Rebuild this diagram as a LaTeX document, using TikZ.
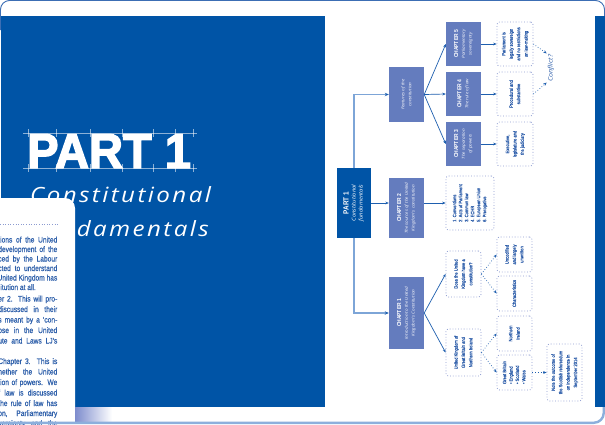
\documentclass[tikz,border=0pt]{standalone}
\usepackage{fontspec}
\usepackage{graphicx}
\usetikzlibrary{arrows.meta}
\newfontfamily\cardfont{Liberation Sans}[FakeStretch=0.83,FakeBold=0.4]
\newfontfamily\boxfont{Liberation Sans}[FakeStretch=0.85]
\newfontfamily\dfont{Liberation Sans}[FakeStretch=0.85,FakeBold=0.3]
\newfontfamily\titlefont{Liberation Sans}[FakeBold=3]
\newfontfamily\handfont{Open Sans}[LetterSpace=10]
\newfontfamily\handwide{Open Sans}[FakeStretch=1.15]
\definecolor{panelblue}{RGB}{0,84,166}
\definecolor{chblue}{RGB}{100,124,190}
\definecolor{trunkblue}{RGB}{125,165,215}
\definecolor{arrowblue}{RGB}{30,95,175}
\definecolor{dotblue}{RGB}{140,155,208}
\definecolor{dtext}{RGB}{40,90,168}
\definecolor{cardtext}{RGB}{45,95,170}
\definecolor{framecol}{RGB}{60,110,180}
\definecolor{bandblue}{RGB}{140,175,220}
\definecolor{gradblue}{RGB}{125,140,205}
\newcommand\rotbox[2]{\rotatebox{90}{\begin{tabular}{@{}#1@{}}#2\end{tabular}}}
\newcommand\chf{\boxfont\bfseries\fontsize{5.8}{6.8}\selectfont}
\newcommand\sbf{\handwide\itshape\fontsize{4}{6.8}\selectfont}
\newcommand\jl[1]{\makebox[59pt][s]{#1}}
\begin{document}
\begin{tikzpicture}[x=1pt,y=-1pt,
  cardline/.style={anchor=base east, inner sep=0, text=cardtext, font=\cardfont\fontsize{8}{9}\selectfont},
  pbox/.style={fill=panelblue, minimum width=34, minimum height=70, inner sep=0, text=white, font=\fontsize{4}{7}\selectfont},
  chbox/.style={fill=chblue, minimum width=35, inner sep=0, text=white, font=\fontsize{4}{6.8}\selectfont},
  dbox/.style={draw=dotblue, dotted, line width=0.8, rounded corners=2.5, fill=white, minimum width=35, inner sep=0, text=dtext, font=\dfont\fontsize{4.8}{7.4}\selectfont},
  arr/.style={draw=arrowblue, line width=0.7, -{Stealth[length=3.4pt,width=2.8pt]}},
  darr/.style={arr, dotted},
  trunk/.style={draw=trunkblue, line width=1.6, -{Stealth[length=4pt,width=3.4pt,color=arrowblue]}},
  guideln/.style={white, opacity=0.55, line width=0.4}
]
\useasboundingbox (0,0) rectangle (605,424);
\fill[white] (0,0) rectangle (605,424);
\fill[panelblue] (1,16) rectangle (325,407);

% title
\node[anchor=base west, inner sep=0, text=white] (title) at (27,168) {\scalebox{0.96}[1]{\titlefont\bfseries\fontsize{49}{49}\selectfont PART 1}};
\draw[guideln] (23,133) -- (197,133) (23,168) -- (197,168);
\foreach \tx in {28,56,90,122,153,175,193} {\draw[guideln] (\tx,129) -- (\tx,137) (\tx,164) -- (\tx,172);}
\node[anchor=base west, inner sep=0, text=white] (sub1) at (30,202) {\scalebox{1.15}[1]{\handfont\itshape\fontsize{21}{21}\selectfont Constitutional}};
\node[anchor=base west, inner sep=0, text=white] (sub2) at (30,236) {\scalebox{1.15}[1]{\handfont\itshape\fontsize{21}{21}\selectfont Fundamentals}};

% card
\fill[white, rounded corners=10] (-12,198) rectangle (75,440);
\draw[dotblue, dotted, line width=0.6] (0,224) -- (58,224);
\node[cardline] (p1a) at (57.5,242.5) {\jl{tions of the United}};
\node[cardline] (p1b) at (57.5,252) {\jl{development of the}};
\node[cardline] (p1c) at (57.5,261.5) {\jl{ced by the Labour}};
\node[cardline] (p1d) at (57.5,271) {\jl{cted to understand}};
\node[cardline] (p1e) at (57.5,280.5) {United Kingdom has};
\node[cardline] (p1f) at (36,290) {itution at all.};
\node[cardline] (p2a) at (57.5,301.5) {\jl{er 2. This will pro-}};
\node[cardline] (p2b) at (57.5,312) {\jl{discussed in their}};
\node[cardline] (p2c) at (57.5,322.5) {\jl{s meant by a ‘con-}};
\node[cardline] (p2d) at (57.5,333) {\jl{ose in the United}};
\node[cardline] (p2e) at (57.5,343.5) {\jl{ute and Laws LJ’s}};
\node[cardline] (p3a) at (57.5,364) {\jl{Chapter 3. This is}};
\node[cardline] (p3b) at (57.5,374.5) {\jl{hether the United}};
\node[cardline] (p3c) at (57.5,385) {\jl{tion of powers. We}};
\node[cardline] (p3d) at (57.5,395.5) {\jl{f law is discussed}};
\node[cardline] (p3e) at (57.5,406) {\jl{the rule of law has}};
\node[cardline] (p3f) at (57.5,416) {\jl{on, Parliamentary}};
\node[cardline] (p3g) at (57.5,426) {\jl{vereignty and the}};

% bottom band and frame
\shade[left color=gradblue, right color=white] (75,407) rectangle (112,421);
\draw[framecol, line width=0.9, rounded corners=9] (0.5,30) -- (0.5,0.5) -- (604.5,0.5) -- (604.5,30);
\draw[bandblue, line width=2.4, rounded corners=10] (-5,422.8) -- (603.8,422.8) -- (603.8,395);
\fill[panelblue] (595,16) rectangle (605,407);

% flowchart nodes
\node[pbox] (part1) at (354,203) {\rotbox{c}{{\boxfont\bfseries\fontsize{7.5}{8}\selectfont PART 1}\\ {\handwide\itshape\fontsize{5.2}{7}\selectfont Constitutional}\\ {\handwide\itshape\fontsize{5.2}{7}\selectfont fundamentals}}};
\node[chbox, minimum height=55] (feat) at (406.5,94.5) {\rotbox{c}{\sbf Features of the\\ \sbf constitution}};
\node[chbox, minimum height=60] (ch2) at (406.5,208) {\rotbox{c}{\chf CHAPTER 2\\ \sbf The sources of the United\\ \sbf Kingdom's constitution}};
\node[chbox, minimum height=72] (ch1) at (406.5,313) {\rotbox{c}{\chf CHAPTER 1\\ \sbf Introduction to the United\\ \sbf Kingdom's Constitution}};
\node[chbox, minimum height=44] (ch5) at (463.5,44) {\rotbox{c}{\chf CHAPTER 5\\ \sbf Parliamentary\\ \sbf sovereignty}};
\node[chbox, minimum height=44] (ch4) at (463.5,94) {\rotbox{c}{\chf CHAPTER 4\\ \sbf The rule of law}};
\node[chbox, minimum height=44] (ch3) at (463.5,144) {\rotbox{c}{\chf CHAPTER 3\\ \sbf The separation\\ \sbf of powers}};

\node[dbox, minimum width=36, minimum height=44] (d5) at (515,44) {\rotbox{c}{Parliament is\\ legally sovereign\\ and no restrictions\\ on law-making}};
\node[dbox, minimum width=36, minimum height=44] (d4) at (515,94) {\rotbox{c}{Procedural and\\ substantive}};
\node[dbox, minimum width=36, minimum height=44] (d3) at (515,144) {\rotbox{c}{Executive,\\ legislature and\\ the judiciary}};
\node[dbox, minimum width=48, minimum height=54, font=\dfont\fontsize{4.8}{6}\selectfont] (srcs) at (470,203) {\rotbox{l}{1.~Conventions\\ 2.~Acts of Parliament\\ 3.~Common law\\ 4.~ECHR\\ 5.~European Union\\ 6.~Prerogative}\hspace{10pt}};
\node[dbox, minimum height=46] (does) at (463.5,274) {\rotbox{c}{Does the United\\ Kingdom have a\\ constitution?}};
\node[dbox, minimum height=47] (uk) at (463.5,352.5) {\rotbox{c}{United Kingdom of\\ Great Britain and\\ Northern Ireland}};
\node[dbox, minimum height=35] (uncod) at (514.5,254.5) {\rotbox{c}{Uncodified\\ and largely\\ unwritten}};
\node[dbox, minimum height=35] (chars) at (514.5,293.5) {\rotbox{c}{Characteristics}};
\node[dbox, minimum height=35] (ni) at (514.5,333.5) {\rotbox{c}{Northern\\ Ireland}};
\node[dbox, minimum height=35, font=\dfont\fontsize{4.8}{6.4}\selectfont] (gb) at (514.5,372.5) {\rotbox{l}{Great Britain\\ • England\\ • Scotland\\ • Wales}};
\node[dbox, minimum height=57] (scot) at (564.5,372.5) {\rotbox{c}{Note the outcome of\\ the Scottish referendum\\ on independence in\\ September 2014}};
\node[rotate=90, inner sep=1, text=dtext, font=\handwide\itshape\fontsize{6.2}{7}\selectfont] (conf) at (551,68) {Conflict?};

% connectors
\draw[trunk] (part1.north) |- (feat.west);
\draw[trunk] (part1.south) |- (ch1.west);
\draw[arr] (part1.east) -- (part1.east -| ch2.west);
\draw[arr] (feat.east) -- (ch5.west);
\draw[arr] (feat.east) -- (ch4.west);
\draw[arr] (feat.east) -- (ch3.west);
\draw[arr] (ch5.east) -- (d5.west);
\draw[arr] (ch4.east) -- (d4.west);
\draw[arr] (ch3.east) -- (d3.west);
\draw[arr] (ch2.east |- srcs.west) -- (srcs.west);
\draw[arr] (ch1.east) -- (does.west);
\draw[arr] (ch1.east) -- (uk.west);
\draw[darr] (does.east) -- (uncod.west);
\draw[darr] (does.east) -- (chars.west);
\draw[darr] (uk.east) -- (ni.west);
\draw[darr] (uk.east) -- (gb.west);
\draw[darr] (gb.east) -- (scot.west);
\draw[darr] (d5.east) -- (conf.north east);
\draw[darr] (d4.east) -- (conf.north west);
\end{tikzpicture}
\end{document}
